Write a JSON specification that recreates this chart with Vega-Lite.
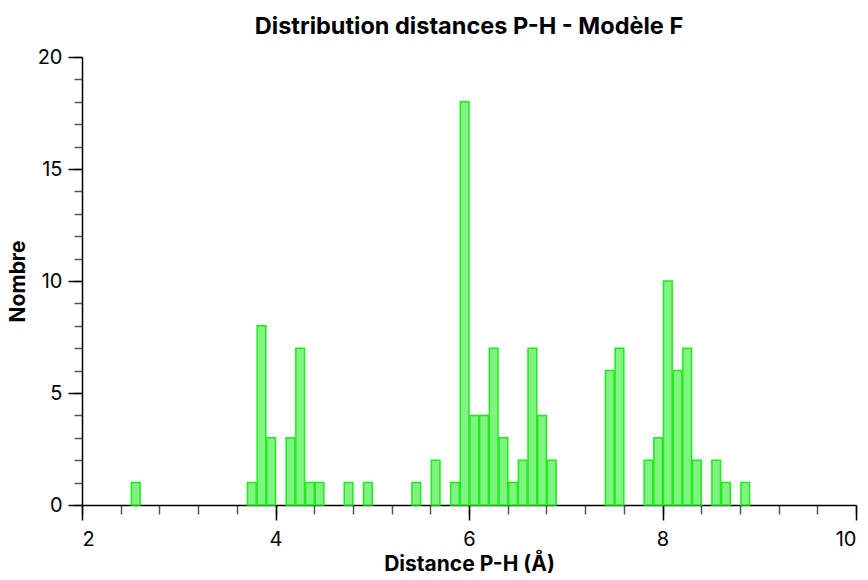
{
  "$schema": "https://vega.github.io/schema/vega-lite/v6.json",
  "width": 774,
  "height": 448,
  "autosize": {"type": "none"},
  "padding": {"left": 82, "top": 57, "right": 12, "bottom": 75},
  "background": "white",
  "config": {"view": {"stroke": null}, "font": "Inter"},
  "title": {"text": "Distribution distances P-H - Modèle F", "fontSize": 23.5, "fontWeight": "bold", "font": "Inter", "color": "black", "anchor": "middle", "offset": 9},
  "data": {"values": [
    {"start": 2.5, "end": 2.6, "count": 1},
    {"start": 3.7, "end": 3.8, "count": 1},
    {"start": 3.8, "end": 3.9, "count": 8},
    {"start": 3.9, "end": 4.0, "count": 3},
    {"start": 4.1, "end": 4.2, "count": 3},
    {"start": 4.2, "end": 4.3, "count": 7},
    {"start": 4.3, "end": 4.4, "count": 1},
    {"start": 4.4, "end": 4.5, "count": 1},
    {"start": 4.7, "end": 4.8, "count": 1},
    {"start": 4.9, "end": 5.0, "count": 1},
    {"start": 5.4, "end": 5.5, "count": 1},
    {"start": 5.6, "end": 5.7, "count": 2},
    {"start": 5.8, "end": 5.9, "count": 1},
    {"start": 5.9, "end": 6.0, "count": 18},
    {"start": 6.0, "end": 6.1, "count": 4},
    {"start": 6.1, "end": 6.2, "count": 4},
    {"start": 6.2, "end": 6.3, "count": 7},
    {"start": 6.3, "end": 6.4, "count": 3},
    {"start": 6.4, "end": 6.5, "count": 1},
    {"start": 6.5, "end": 6.6, "count": 2},
    {"start": 6.6, "end": 6.7, "count": 7},
    {"start": 6.7, "end": 6.8, "count": 4},
    {"start": 6.8, "end": 6.9, "count": 2},
    {"start": 7.4, "end": 7.5, "count": 6},
    {"start": 7.5, "end": 7.6, "count": 7},
    {"start": 7.8, "end": 7.9, "count": 2},
    {"start": 7.9, "end": 8.0, "count": 3},
    {"start": 8.0, "end": 8.1, "count": 10},
    {"start": 8.1, "end": 8.2, "count": 6},
    {"start": 8.2, "end": 8.3, "count": 7},
    {"start": 8.3, "end": 8.4, "count": 2},
    {"start": 8.5, "end": 8.6, "count": 2},
    {"start": 8.6, "end": 8.7, "count": 1},
    {"start": 8.8, "end": 8.9, "count": 1}
  ]},
  "resolve": {"axis": {"x": "independent", "y": "independent"}},
  "layer": [
    {
      "mark": {"type": "bar", "opacity": 0},
      "encoding": {
        "x": {"field": "start", "type": "quantitative", "bin": "binned", "scale": {"domain": [2, 10], "nice": false, "zero": false},
          "axis": {"orient": "bottom", "values": [2, 2.4, 2.8, 3.2, 3.6, 4, 4.4, 4.8, 5.2, 5.6, 6, 6.4, 6.8, 7.2, 7.6, 8, 8.4, 8.8, 9.2, 9.6, 10], "labels": false, "domain": false, "grid": false, "title": null, "tickSize": 9, "tickColor": "#555555", "tickWidth": 1.5}},
        "x2": {"field": "end"},
        "y": {"field": "count", "type": "quantitative", "scale": {"domain": [0, 20], "nice": false},
          "axis": {"orient": "left", "values": [0,1,2,3,4,5,6,7,8,9,10,11,12,13,14,15,16,17,18,19,20], "labels": false, "domain": false, "grid": false, "title": null, "tickSize": 8, "tickColor": "#555555", "tickWidth": 1.5}}
      }
    },
    {
      "mark": {"type": "bar", "fill": "#82f282", "stroke": "#19ee19", "strokeWidth": 1.5},
      "encoding": {
        "x": {"field": "start", "type": "quantitative", "bin": "binned",
          "axis": {"orient": "bottom", "values": [2, 4, 6, 8, 10], "format": "d", "grid": false, "title": "Distance P-H (Å)", "tickSize": 15, "tickColor": "black", "tickWidth": 1.5, "domainColor": "black", "domainWidth": 1.5, "labelFontSize": 20, "labelColor": "black", "labelPadding": 9, "labelFont": "Inter", "titleFont": "Inter", "titleFontSize": 21, "titleFontWeight": "bold", "titleColor": "black", "titlePadding": 4}},
        "x2": {"field": "end"},
        "y": {"field": "count", "type": "quantitative",
          "axis": {"orient": "left", "values": [0, 5, 10, 15, 20], "grid": false, "title": "Nombre", "tickSize": 14, "tickColor": "black", "tickWidth": 1.5, "domainColor": "black", "domainWidth": 1.5, "labelFontSize": 20, "labelColor": "black", "labelPadding": 6, "labelFont": "Inter", "titleFont": "Inter", "titleFontSize": 21, "titleFontWeight": "bold", "titleColor": "black", "titlePadding": 9}}
      }
    }
  ]
}
